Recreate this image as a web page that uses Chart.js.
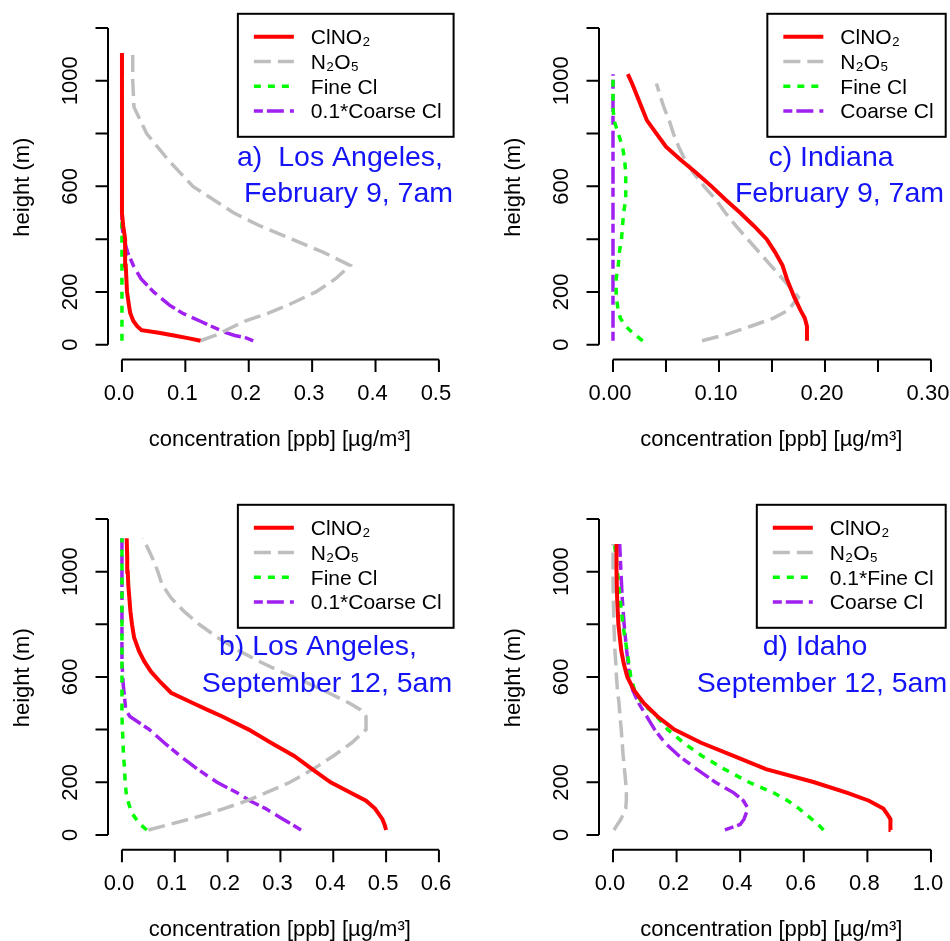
<!DOCTYPE html>
<html>
<head>
<meta charset="utf-8">
<script src="https://cdn.jsdelivr.net/npm/chart.js@4.4.1/dist/chart.umd.min.js"></script>
<style>
  body { margin: 0; background: #fff; width: 950px; height: 941px; position: relative; overflow: hidden; }
  canvas { position: absolute; }
</style>
</head>
<body>
<canvas id="panelA" width="475" height="470" style="left:0;top:0"></canvas>
<canvas id="panelC" width="475" height="470" style="left:475px;top:0"></canvas>
<canvas id="panelB" width="475" height="461" style="left:0;top:480px"></canvas>
<canvas id="panelD" width="475" height="461" style="left:475px;top:480px"></canvas>
<script>
// shared height axis
const yTicks = [0, 200, 400, 600, 800, 1000, 1200];
const yTickLabels = ["0", "200", "", "600", "", "1000", ""];

// a) Los Angeles, February 9, 7am
const heightsA = [15, 25, 35, 45, 55, 70, 90, 120, 150, 200, 250, 300, 350, 400, 450, 500, 600, 700, 800, 900, 1000, 1105];
const clno2A = [0.124, 0.104, 0.082, 0.058, 0.031, 0.024, 0.018, 0.013, 0.011, 0.008, 0.007, 0.006, 0.005, 0.005, 0.002, 0, 0, 0, 0, 0, 0, 0];
const n2o5A = [0.124, 0.135, 0.147, 0.157, 0.164, 0.177, 0.195, 0.231, 0.262, 0.306, 0.337, 0.360, 0.318, 0.268, 0.218, 0.176, 0.112, 0.073, 0.039, 0.019, 0.017, 0.017];
const fineClA = [0, 0, 0, 0, 0, 0, 0, 0, 0, 0, 0, 0, 0, 0, 0, 0, 0, 0, 0, 0, 0, 0];
const coarseClA = [0.207, 0.197, 0.178, 0.165, 0.155, 0.141, 0.123, 0.095, 0.075, 0.050, 0.030, 0.018, 0.009, 0.003, 0, 0, 0, 0, 0, 0, 0, 0];
const xTicksA = [0, 0.1, 0.2, 0.3, 0.4, 0.5];
const xTickLabelsA = ["0.0", "0.1", "0.2", "0.3", "0.4", "0.5"];
const legendA = ["ClNO₂", "N₂O₅", "Fine Cl", "0.1*Coarse Cl"];
const titleA = ["a)  Los Angeles,", "February 9, 7am"];

// c) Indiana, February 9, 7am
const heightsC = [15, 40, 70, 100, 130, 180, 200, 250, 300, 350, 400, 450, 500, 550, 600, 650, 700, 750, 800, 850, 900, 950, 990, 1025];
const clno2C = [0.183, 0.183, 0.183, 0.181, 0.177, 0.171, 0.169, 0.164, 0.160, 0.153, 0.145, 0.133, 0.120, 0.106, 0.093, 0.079, 0.064, 0.050, 0.041, 0.032, 0.027, 0.022, 0.018, 0.014];
const n2o5C = [0.084, 0.108, 0.130, 0.151, 0.165, 0.175, 0.171, 0.160, 0.149, 0.138, 0.127, 0.116, 0.106, 0.097, 0.086, 0.076, 0.068, 0.062, 0.057, 0.053, 0.048, 0.044, 0.041, null];
const fineClC = [0.028, 0.020, 0.012, 0.007, 0.005, 0.003, 0.003, 0.003, 0.005, 0.006, 0.008, 0.009, 0.010, 0.012, 0.012, 0.012, 0.011, 0.009, 0.005, 0.001, 0, 0, 0, 0];
const coarseClC = [0, 0, 0, 0, 0, 0, 0, 0, 0, 0, 0, 0, 0, 0, 0, 0, 0, 0, 0, 0, 0, 0, 0, 0];
const xTicksC = [0, 0.05, 0.1, 0.15, 0.2, 0.25, 0.3];
const xTickLabelsC = ["0.00", "", "0.10", "", "0.20", "", "0.30"];
const legendC = ["ClNO₂", "N₂O₅", "Fine Cl", "Coarse Cl"];
const titleC = ["c) Indiana", "February 9, 7am"];

// b) Los Angeles, September 12, 5am
const heightsB = [19, 40, 60, 80, 100, 130, 160, 200, 250, 300, 350, 400, 450, 475, 500, 540, 580, 620, 660, 700, 750, 800, 850, 900, 950, 1000, 1050, 1127];
const clno2B = [0.500, 0.497, 0.493, 0.486, 0.479, 0.462, 0.433, 0.395, 0.360, 0.326, 0.282, 0.240, 0.190, 0.162, 0.135, 0.093, 0.073, 0.055, 0.042, 0.032, 0.023, 0.019, 0.016, 0.014, 0.012, 0.011, 0.010, 0.009];
const n2o5B = [0.050, 0.090, 0.128, 0.162, 0.193, 0.237, 0.272, 0.318, 0.362, 0.400, 0.435, 0.462, 0.462, 0.452, 0.431, 0.391, 0.348, 0.300, 0.259, 0.221, 0.181, 0.146, 0.117, 0.093, 0.076, 0.068, 0.058, 0.040];
const fineClB = [0.047, 0.035, 0.027, 0.020, 0.016, 0.011, 0.008, 0.006, 0.005, 0.003, 0.002, 0.001, 0, 0, 0, 0, 0, 0, 0, 0, 0, 0, 0, 0, 0, 0, 0, 0];
const coarseClB = [0.339, 0.322, 0.305, 0.288, 0.272, 0.242, 0.218, 0.180, 0.143, 0.110, 0.080, 0.052, 0.015, 0.007, 0.006, 0.004, 0.002, 0.001, 0, 0, 0, 0, 0, 0, 0, 0, 0, 0];
const xTicksB = [0, 0.1, 0.2, 0.3, 0.4, 0.5, 0.6];
const xTickLabelsB = ["0.0", "0.1", "0.2", "0.3", "0.4", "0.5", "0.6"];
const legendB = ["ClNO₂", "N₂O₅", "Fine Cl", "0.1*Coarse Cl"];
const titleB = ["b) Los Angeles,", "September 12, 5am"];

// d) Idaho, September 12, 5am
const heightsD = [19, 40, 60, 80, 100, 130, 160, 200, 250, 300, 350, 400, 450, 500, 550, 600, 650, 700, 800, 900, 1000, 1105];
const clno2D = [0.873, 0.873, 0.872, 0.862, 0.850, 0.805, 0.737, 0.633, 0.481, 0.379, 0.277, 0.193, 0.140, 0.097, 0.066, 0.045, 0.034, 0.026, 0.017, 0.013, 0.011, 0.011];
const n2o5D = [0.003, 0.014, 0.025, 0.032, 0.040, 0.042, 0.042, 0.040, 0.036, 0.032, 0.029, 0.026, 0.022, 0.019, 0.014, 0.011, 0.009, 0.006, 0.003, 0.001, 0, 0];
const fineClD = [0.662, 0.645, 0.625, 0.605, 0.585, 0.550, 0.505, 0.428, 0.350, 0.280, 0.222, 0.172, 0.138, 0.092, 0.068, 0.056, 0.050, 0.044, 0.031, 0.022, 0.014, 0.005];
const coarseClD = [0.352, 0.400, 0.412, 0.418, 0.425, 0.410, 0.380, 0.322, 0.263, 0.208, 0.163, 0.131, 0.106, 0.081, 0.062, 0.052, 0.048, 0.043, 0.035, 0.029, 0.025, 0.021];
const xTicksD = [0, 0.2, 0.4, 0.6, 0.8, 1.0];
const xTickLabelsD = ["0.0", "0.2", "0.4", "0.6", "0.8", "1.0"];
const legendD = ["ClNO₂", "N₂O₅", "0.1*Fine Cl", "Coarse Cl"];
const titleD = ["d) Idaho", "September 12, 5am"];

const FONT = "'Liberation Sans', Arial, Helvetica, sans-serif";
const styles = [
  { color: "#ff0000", width: 4, dash: [] },
  { color: "#bebebe", width: 3.5, dash: [17, 7] },
  { color: "#00ff00", width: 3.5, dash: [7, 7] },
  { color: "#a020f0", width: 3.5, dash: [9, 4, 17, 6] }
];

// R-like axes: lines only over the tick range, rotated y labels, legend box, panel text
const rAxes = {
  id: "rAxes",
  afterDatasetsDraw(chart, args, opts) {
    const ctx = chart.ctx;
    const xs = chart.scales.x;
    const ys = chart.scales.y;
    const area = chart.chartArea;
    ctx.save();
    ctx.setLineDash([]);
    ctx.strokeStyle = "#000";
    ctx.lineWidth = 2;
    ctx.lineCap = "butt";

    const yBot = ys.getPixelForValue(yTicks[0]);
    const yTop = ys.getPixelForValue(yTicks[yTicks.length - 1]);
    const xL = xs.getPixelForValue(opts.xTicks[0]);
    const xR = xs.getPixelForValue(opts.xTicks[opts.xTicks.length - 1]);
    ctx.beginPath();
    ctx.moveTo(area.left, yTop);
    ctx.lineTo(area.left, yBot);
    yTicks.forEach(v => {
      const p = ys.getPixelForValue(v);
      ctx.moveTo(area.left, p);
      ctx.lineTo(area.left - 12.5, p);
    });
    ctx.moveTo(xL, area.bottom);
    ctx.lineTo(xR, area.bottom);
    opts.xTicks.forEach(v => {
      const p = xs.getPixelForValue(v);
      ctx.moveTo(p, area.bottom);
      ctx.lineTo(p, area.bottom + 12.5);
    });
    ctx.stroke();

    ctx.fillStyle = "#000";
    ctx.textBaseline = "alphabetic";
    ctx.textAlign = "center";
    ctx.font = "22px " + FONT;
    opts.xTicks.forEach((v, i) => {
      if (opts.xLabels[i]) ctx.fillText(opts.xLabels[i], xs.getPixelForValue(v) - 3, area.bottom + 40.5);
    });
    yTicks.forEach((v, i) => {
      if (!yTickLabels[i]) return;
      ctx.save();
      ctx.translate(area.left - 31.5, ys.getPixelForValue(v));
      ctx.rotate(-Math.PI / 2);
      ctx.fillText(yTickLabels[i], 0, 0);
      ctx.restore();
    });

    ctx.font = "22px " + FONT;
    ctx.fillText("concentration [ppb] [µg/m³]", (area.left + area.right) / 2, area.bottom + 86);
    ctx.save();
    ctx.translate(area.left - 79, (area.top + area.bottom) / 2);
    ctx.rotate(-Math.PI / 2);
    ctx.fillText("height (m)", 0, 0);
    ctx.restore();

    // legend, top right of the plot region
    ctx.font = "21px " + FONT;
    const sets = chart.data.datasets;
    const maxW = Math.max(...sets.map(d => ctx.measureText(d.label).width));
    const w = 73 + maxW + 12;
    const h = 123;
    const bx = area.right + 2 - w;
    const by = area.top - 1;
    ctx.fillStyle = "#fff";
    ctx.fillRect(bx, by, w, h);
    ctx.strokeStyle = "#000";
    ctx.lineWidth = 2;
    ctx.strokeRect(bx, by, w, h);
    ctx.textAlign = "left";
    sets.forEach((d, i) => {
      const ly = by + 23 + i * 24.7;
      ctx.strokeStyle = d.borderColor;
      ctx.lineWidth = d.borderWidth;
      ctx.setLineDash(d.borderDash);
      ctx.beginPath();
      ctx.moveTo(bx + 16, ly);
      ctx.lineTo(bx + 56, ly);
      ctx.stroke();
      ctx.setLineDash([]);
      ctx.fillStyle = "#000";
      ctx.fillText(d.label, bx + 73, ly + 7.5);
    });

    // panel caption
    ctx.fillStyle = "#1414f6";
    ctx.font = "28.5px " + FONT;
    ctx.textAlign = "center";
    opts.title.forEach((line, i) => ctx.fillText(line, opts.titleX[i], opts.titleY[i]));
    ctx.restore();
  }
};

function makePanel(id, p) {
  const datasets = p.series.map((vals, k) => ({
    label: p.legend[k],
    data: p.heights.map((hgt, i) => ({ x: vals[i], y: hgt })).filter(pt => pt.x !== null),
    showLine: true,
    borderColor: styles[k].color,
    borderWidth: styles[k].width,
    borderDash: styles[k].dash,
    pointRadius: 0,
    fill: false,
    tension: 0
  }));
  // draw the ClNO2 line on top, as in the original
  datasets[0].order = -1;
  const xMax = p.xTicks[p.xTicks.length - 1];
  return new Chart(document.getElementById(id), {
    type: "scatter",
    data: { datasets },
    options: {
      responsive: false,
      animation: false,
      devicePixelRatio: 1,
      layout: { padding: p.pad },
      plugins: {
        legend: { display: false },
        tooltip: { enabled: false },
        rAxes: { xTicks: p.xTicks, xLabels: p.xLabels, title: p.title, titleX: p.titleX, titleY: p.titleY }
      },
      scales: {
        x: { type: "linear", display: false, min: -0.044 * xMax, max: 1.04 * xMax },
        y: { type: "linear", display: false, min: -56, max: 1250 }
      }
    },
    plugins: [rAxes]
  });
}

makePanel("panelA", {
  heights: heightsA, series: [clno2A, n2o5A, fineClA, coarseClA], legend: legendA,
  xTicks: xTicksA, xLabels: xTickLabelsA, title: titleA, titleX: [340, 348.5], titleY: [166, 202],
  pad: { left: 108, right: 23.4, top: 14.8, bottom: 110.5 }
});
makePanel("panelC", {
  heights: heightsC, series: [clno2C, n2o5C, fineClC, coarseClC], legend: legendC,
  xTicks: xTicksC, xLabels: xTickLabelsC, title: titleC, titleX: [356, 364.5], titleY: [166, 202],
  pad: { left: 124, right: 6.3, top: 14.8, bottom: 110.5 }
});
makePanel("panelB", {
  heights: heightsB, series: [clno2B, n2o5B, fineClB, coarseClB], legend: legendB,
  xTicks: xTicksB, xLabels: xTickLabelsB, title: titleB, titleX: [318, 327], titleY: [175, 212],
  pad: { left: 108, right: 23.4, top: 25.8, bottom: 91.3 }
});
makePanel("panelD", {
  heights: heightsD, series: [clno2D, n2o5D, fineClD, coarseClD], legend: legendD,
  xTicks: xTicksD, xLabels: xTickLabelsD, title: titleD, titleX: [340, 347], titleY: [175, 212],
  pad: { left: 124, right: 6.3, top: 25.8, bottom: 91.3 }
});
</script>
</body>
</html>
